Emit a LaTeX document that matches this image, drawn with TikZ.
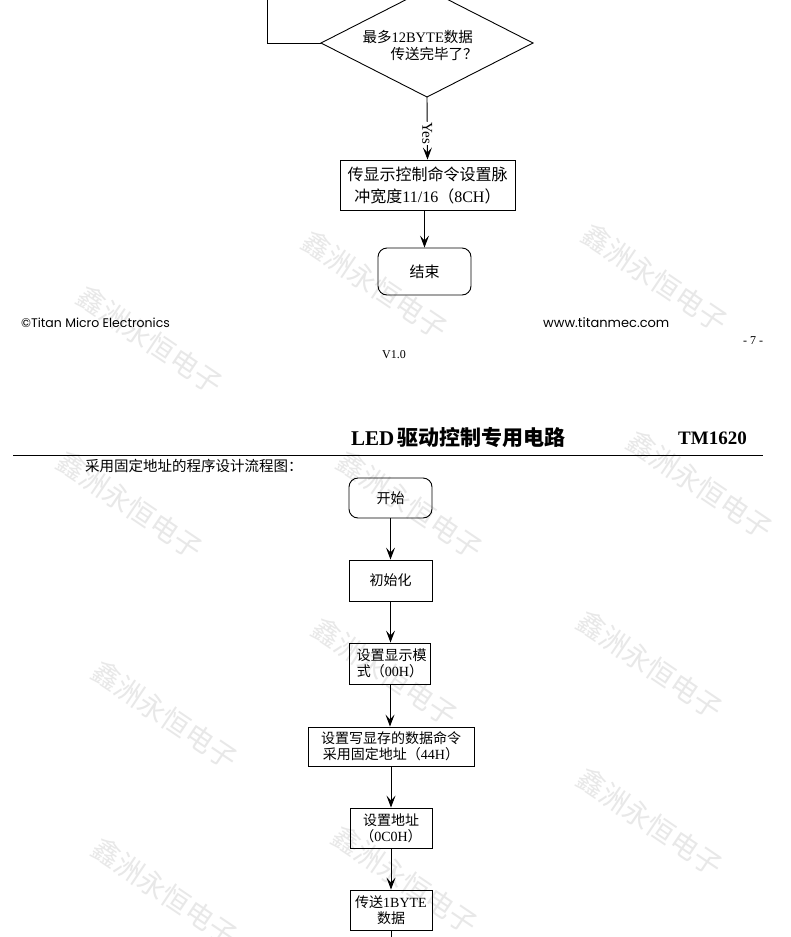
\documentclass[tikz,border=0pt]{standalone}
\usepackage{fontspec}
\setmainfont{Liberation Serif}
\newfontfamily\cjk{Noto Sans CJK SC}
\newfontfamily\gothic{Poppins}
\usetikzlibrary{arrows.meta}
\newcommand\zh[1]{{\cjk #1}}
\tikzset{
  flow/.style={draw, line width=0.9pt, -{Stealth[length=12pt,width=9pt,inset=5pt]}},
  plainline/.style={draw, line width=0.9pt},
  procbox/.style={draw, line width=0.9pt, inner sep=0pt, align=center, font=\fontsize{14}{16}\selectfont},
  termbox/.style={procbox, rounded corners=9pt},
  wmark/.style={text=black!9, font=\cjk\fontsize{28}{28}\selectfont, rotate=-34, inner sep=0pt},
}
\begin{document}
\begin{tikzpicture}[x=1pt,y=-1pt]
\useasboundingbox[fill=white] (0,0) rectangle (790,937);
% watermarks
\foreach \i/\p in {w1/{(150,340)}, w2/{(375,285)}, w3/{(655,278)}, w4/{(700,485)}, w5/{(410,505)}, w6/{(130,505)},
                   w7/{(650,665)}, w8/{(165,715)}, w9/{(385,672)}, w10/{(650,822)}, w11/{(165,892)}, w12/{(405,880)}}
  \node[wmark] (\i) at \p {鑫洲永恒电子};

% ---------- upper page ----------
\coordinate (decT) at (427,-11);
\coordinate (decR) at (533,43);
\coordinate (decB) at (427,97);
\coordinate (decL) at (321,43);
\draw[plainline] (decT) -- (decR) -- (decB) -- (decL) -- cycle;
\node[inner sep=0pt, align=left, font=\fontsize{14.5}{17}\selectfont] (dec) at (420,45)
  {\zh{最多}12BYTE\zh{数据}\\\hspace{28pt}\zh{传送完毕了？}};
\coordinate (loopTop) at (267,0);
\draw[plainline] (loopTop) |- (decL);

\node[procbox, minimum width=175, minimum height=50, font=\fontsize{16}{22}\selectfont] (ctl) at (427.5,185)
  {\zh{传显示控制命令设置脉}\\\zh{冲宽度}11/16\zh{（}8CH\zh{）}};
\draw[flow] (decB) -- node[pos=0.58, rotate=-90, fill=white, inner sep=0.5pt, font=\fontsize{15}{15}\selectfont] (yes) {Yes} (ctl.north);

\node[termbox, minimum width=93, minimum height=47, font=\cjk\fontsize{15}{17}\selectfont] (end) at (424.5,271.5) {结束};
\draw[flow] (ctl.south -| end.north) -- (end.north);

\node[anchor=west, font=\gothic\fontsize{12.5}{13}\selectfont, inner sep=0pt] (copy) at (21,323) {©Titan Micro Electronics};
\node[anchor=west, font=\gothic\fontsize{13}{13}\selectfont, inner sep=0pt] (web) at (543,323) {www.titanmec.com};
\node[anchor=west, font=\fontsize{12}{12}\selectfont, inner sep=0pt] (page) at (743,341) {- 7 -};
\node[anchor=west, font=\fontsize{12}{12}\selectfont, inner sep=0pt] (ver) at (382,355) {V1.0};

% ---------- lower page ----------
\node[anchor=west, inner sep=0pt, font=\fontsize{21}{21}\selectfont] (title) at (351,438)
  {\textbf{LED}\,{\cjk\bfseries 驱动控制专用电路}};
\node[anchor=west, inner sep=0pt, font=\bfseries\fontsize{19}{19}\selectfont] (chip) at (678,438) {TM1620};
\draw[line width=0.8pt] (13,455) -- (763,455);
\node[anchor=west, inner sep=0pt, font=\cjk\fontsize{14.5}{15}\selectfont] (caption) at (85,466) {采用固定地址的程序设计流程图：};

\node[termbox, minimum width=83, minimum height=40, font=\cjk\fontsize{14}{16}\selectfont] (start) at (390.5,498) {开始};
\node[procbox, minimum width=83, minimum height=41, font=\cjk\fontsize{14}{16}\selectfont] (init) at (390.5,580.5) {初始化};
\node[procbox, minimum width=81, minimum height=41] (mode) at (390,663.5)
  {\hspace{3pt}\zh{设置显示模}\\\zh{式（}00H\zh{）}};
\node[procbox, minimum width=166, minimum height=39] (cmd) at (391,746.5)
  {\zh{设置写显存的数据命令}\\\zh{采用固定地址（}44H\zh{）}};
\node[procbox, minimum width=82, minimum height=40] (addr) at (391,828)
  {\zh{设置地址}\\\zh{（}0C0H\zh{）}};
\node[procbox, minimum width=82, minimum height=40] (send) at (391,910)
  {\zh{传送}1BYTE\\\zh{数据}};
\coordinate (bottomEnd) at (391,937);

\draw[flow] (start.south) -- (init.north);
\draw[flow] (init.south) -- (init.south |- mode.north);
\draw[flow] (mode.south) -- (mode.south |- cmd.north);
\draw[flow] (cmd.south) -- (addr.north);
\draw[flow] (addr.south) -- (send.north);
\draw[plainline] (send.south) -- (bottomEnd);
\end{tikzpicture}
\end{document}
